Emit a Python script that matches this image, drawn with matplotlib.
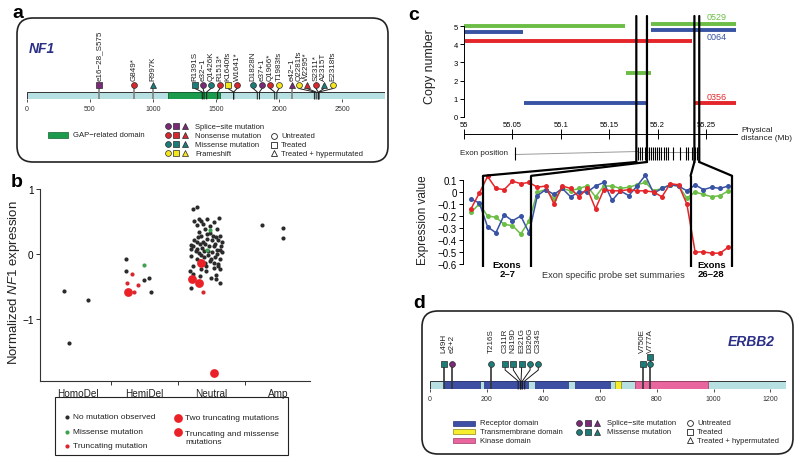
import matplotlib
matplotlib.use('Agg')
import matplotlib.pyplot as plt
from matplotlib.patches import FancyBboxPatch, Rectangle, ConnectionPatch
import numpy as np

plt.rcParams['font.family'] = 'Liberation Sans'
plt.rcParams['mathtext.fontset'] = 'custom'
plt.rcParams['mathtext.it'] = 'Liberation Sans:italic'
plt.rcParams['mathtext.rm'] = 'Liberation Sans'

W, H = 800, 464

'''Colors'''
TEAL = '#1d7c78'
PURPLE = '#7b2a79'
RED = '#d7282f'
YELLOW = '#f4e61c'
PALE = '#b6e0e1'
GAP_GREEN = '#1c9b4c'
NAVY = '#2b2f86'
CN_GREEN = '#6cbd45'
CN_BLUE = '#3953a4'
CN_RED = '#e4262b'
RECEPTOR = '#3c4fa2'
TM_YELLOW = '#f6ee2c'
KINASE = '#e9659d'
INK = '#222222'

KIND_COLOR = {'splice': PURPLE, 'nonsense': RED, 'missense': TEAL, 'frameshift': YELLOW}
SHAPE = {'untreated': 'o', 'treated': 's', 'hyper': '^'}

'''a: NF1 mutations'''
NF1_LEN = 2839
nf1_gap = (1120, 1535)
nf1_ticks = [0, 500, 1000, 1500, 2000, 2500]
nf1_labels = ['e16−28_S575', 'G849*', 'R997K', 'R1391S', 'e32−1', 'Q1426K', 'R1513*',
              'K1640fs', 'W1641*', 'D1828N', 'e37+1', 'Q1966*', 'T1983fs', 'e42−1',
              'Q2281fs', 'W2295*', 'S2311*', 'A2315T', 'E2318fs']
nf1_pos = [575, 849, 997, 1391, 1405, 1426, 1513, 1640, 1641, 1828, 1845, 1966, 1983,
           2103, 2281, 2295, 2311, 2315, 2318]
nf1_kind = ['splice', 'nonsense', 'missense', 'missense', 'splice', 'missense', 'nonsense',
            'frameshift', 'nonsense', 'missense', 'splice', 'nonsense', 'frameshift', 'splice',
            'frameshift', 'nonsense', 'nonsense', 'missense', 'frameshift']
nf1_status = ['treated', 'untreated', 'hyper', 'treated', 'untreated', 'untreated', 'untreated',
              'treated', 'untreated', 'untreated', 'untreated', 'untreated', 'untreated', 'hyper',
              'untreated', 'hyper', 'untreated', 'hyper', 'untreated']
# where the lollipop heads sit (spread so they don't overlap)
nf1_head_x = [575, 849, 997, 1333, 1397, 1460, 1532, 1595, 1667, 1795, 1865, 1929, 2000,
              2103, 2159, 2222, 2294, 2357, 2429]

'''b: NF1 expression by copy number'''
b_categories = ['HomoDel', 'HemiDel', 'Neutral', 'Amp']
nomut_x = [-0.20, 0.15, -0.12,
           0.72, 0.72, 0.99, 1.07, 1.10,
           2.75, 3.07, 3.07,
           1.72, 1.78, 1.74, 1.81, 1.85, 1.79, 1.90, 1.82, 2.04, 2.11, 2.08, 2.02, 2.07, 1.98,
           1.94, 1.74, 1.78, 1.69, 1.73, 1.79, 1.83, 1.88, 1.91, 1.96, 2.03, 2.08, 2.12, 2.10,
           2.01, 1.95, 1.89, 1.84, 1.81, 1.86, 1.77, 1.97, 1.92, 1.99, 2.05, 1.73, 2.09, 2.12,
           2.09, 1.99, 2.06, 2.12, 1.72, 1.69, 1.68, 1.85, 1.90, 2.03, 2.13, 1.83, 1.78, 1.70,
           2.15, 2.13, 2.05, 1.95, 1.89, 1.80, 1.85, 1.93, 2.00, 2.08, 2.15, 1.70, 1.92, 2.03,
           1.83, 2.14, 1.98, 1.88, 1.93, 2.07]
nomut_y = [-0.56, -0.70, -1.36,
           -0.07, -0.26, -0.40, -0.37, -0.58,
           0.45, 0.40, 0.24,
           0.69, 0.72, 0.51, 0.54, 0.51, 0.44, 0.38, 0.34, 0.49, 0.56, 0.39, 0.28, 0.26, 0.33,
           0.23, 0.21, 0.18, 0.14, 0.12, 0.08, 0.15, 0.19, 0.15, 0.13, 0.12, 0.06, 0.07, 0.21,
           0.03, -0.01, -0.05, -0.02, 0.02, 0.09, 0.04, -0.10, -0.18, -0.07, -0.04, -0.19, -0.19,
           -0.23, -0.16, -0.36, -0.32, -0.45, -0.30, -0.52, -0.26, -0.23, -0.13, -0.13, -0.08,
           -0.10, -0.07, -0.03, 0.18, 0.28, 0.15, 0.05, 0.04, 0.26, 0.28, 0.31, 0.21, 0.00, 0.03,
           0.08, -0.26, -0.22, -0.33, 0.13, 0.43, 0.46, 0.54, -0.38]
missense_x = [0.99, 1.98, 1.94]
missense_y = [-0.17, 0.37, 0.06]
trunc_x = [0.81, 0.74, 0.91, 0.85, 1.88]
trunc_y = [-0.30, -0.44, -0.47, -0.59, -0.58]
two_trunc_x = [0.76, 1.84, 2.04]
two_trunc_y = [-0.59, -0.14, -1.83]
trunc_mis_x = [1.71, 1.81]
trunc_mis_y = [-0.38, -0.45]

'''c: copy number segments (Mb) and exon probe sets'''
green_start = [55.000, 55.167, 55.193]
green_end = [55.166, 55.193, 55.281]
green_cn = [5.02, 2.42, 5.10]
blue_start = [55.000, 55.062, 55.193]
blue_end = [55.061, 55.189, 55.281]
blue_cn = [4.67, 0.77, 4.78]
red_start = [55.000, 55.238]
red_end = [55.236, 55.281]
red_cn = [4.18, 0.77]
ruler_ticks = [55.0, 55.05, 55.1, 55.15, 55.2, 55.25]
ruler_labels = ['55', '55.05', '55.1', '55.15', '55.2', '55.25']
exon_mb = [55.053, 55.1798, 55.1818, 55.184, 55.187, 55.189, 55.191, 55.193, 55.195,
           55.197, 55.199, 55.201, 55.2035, 55.2066, 55.2087, 55.211, 55.216, 55.223,
           55.229, 55.231, 55.2355, 55.2386, 55.2407, 55.243]
bound_mb = [55.178, 55.189, 55.238, 55.243]
bound_probe = [1.45, 7.25, 26.45, 31.45]
expr_green = [-0.17, -0.10, -0.20, -0.21, -0.27, -0.28, -0.35, -0.24, 0.00, 0.02, -0.06,
              0.03, 0.01, 0.03, 0.05, -0.04, 0.05, 0.05, 0.03, 0.04, 0.06, 0.08, 0.01, 0.03,
              0.06, 0.05, -0.05, 0.00, -0.02, -0.04, -0.03, 0.01]
expr_blue = [-0.06, -0.09, -0.29, -0.34, -0.19, -0.24, -0.20, -0.34, -0.03, 0.02, -0.02,
             0.03, -0.04, 0.00, 0.00, 0.05, 0.08, -0.07, 0.01, -0.03, 0.05, 0.14, -0.01, 0.03,
             0.06, 0.05, 0.01, 0.06, 0.02, 0.04, 0.03, 0.05]
expr_red = [-0.14, -0.01, 0.13, 0.03, 0.02, 0.09, 0.07, 0.08, 0.04, 0.05, -0.10, 0.05, 0.03,
            -0.04, 0.03, -0.14, 0.02, 0.01, 0.01, 0.02, 0.01, 0.01, 0.00, -0.04, 0.07, 0.06,
            -0.10, -0.50, -0.50, -0.51, -0.51, -0.46]
expr_ticks = [0.1, 0.0, -0.1, -0.2, -0.3, -0.4, -0.5, -0.6]

'''d: ERBB2 mutations'''
ERBB2_LEN = 1255
d_ticks = [0, 200, 400, 600, 800, 1000, 1200]
receptor_start = [49, 190, 370, 511]
receptor_end = [176, 346, 487, 635]
tm_domain = (652, 675)
kinase_domain = (723, 981)
d_labels = ['L49H', 'e2+2', 'T216S', 'C311R', 'N319D', 'E321G', 'D326G', 'C334S', 'V750E', 'V777A']
d_pos = [49, 78, 216, 311, 319, 321, 326, 334, 750, 777]
d_kind = ['missense', 'splice', 'missense', 'missense', 'missense', 'missense', 'missense',
          'missense', 'missense', 'missense']
d_status = ['treated', 'untreated', 'untreated', 'treated', 'treated', 'treated', 'untreated',
            'untreated', 'treated', 'untreated']
d_head_x = [49, 78, 216, 265, 294, 323, 353, 382, 750, 777]
# second sample carrying V777A (stacked head)
d_extra_pos = [777]
d_extra_kind = ['missense']
d_extra_status = ['treated']


fig = plt.figure(figsize=(8, 4.64), dpi=100)
over = fig.add_axes([0, 0, 1, 1])
over.set_xlim(0, W)
over.set_ylim(H, 0)
over.axis('off')


def px_axes(x0, y0, x1, y1):
    ax = fig.add_axes([x0 / W, 1 - y1 / H, (x1 - x0) / W, (y1 - y0) / H])
    ax.set_facecolor('none')
    return ax


def draw_protein(ax, length, bar_top, bar_bot, ticks):
    ax.set_xlim(0, length)
    ax.add_patch(Rectangle((0, bar_top), length, bar_bot - bar_top, fc=PALE, ec='#333333',
                           lw=0.7, zorder=1))
    for sp in ax.spines.values():
        sp.set_visible(False)
    ax.set_yticks([])
    ax.set_xticks(ticks)
    ax.tick_params(axis='x', length=2.5, width=0.6, labelsize=5, pad=1.5, colors='#333333')


def draw_lollipops(ax, pos, head_x, kind, status, labels, head_y, elbow_y, bar_top, bar_bot,
                   label_y, straight_color):
    for p, hx, k, s, lab in zip(pos, head_x, kind, status, labels):
        if hx == p:
            ax.plot([p, p], [head_y, bar_bot], color=straight_color, lw=1.2, zorder=2,
                    solid_capstyle='butt', clip_on=False)
        else:
            ax.plot([hx, hx, p, p], [head_y, elbow_y, bar_top, bar_bot], color='#1a1a1a',
                    lw=0.7, zorder=2, clip_on=False)
        ax.plot(hx, head_y, marker=SHAPE[s], ms=4.2, mfc=KIND_COLOR[k], mec='#2a2a2a',
                mew=0.5, zorder=4, clip_on=False)
        if lab:
            ax.text(hx, label_y, lab, rotation=90, ha='center', va='bottom', fontsize=5.8,
                    color=INK)


# ---------------- panel a ----------------
over.add_patch(FancyBboxPatch((17, 19), 371, 144, boxstyle='round,pad=0,rounding_size=16',
                              fc='none', ec=INK, lw=1.2))
over.text(17.5, 18.5, 'a', fontsize=14, fontweight='bold', ha='center', va='baseline')
over.text(41.5, 49, 'NF1', fontsize=10, fontweight='bold', style='italic', color=NAVY,
          ha='center', va='center')

ax_a = px_axes(27, 15, 384.7, 100)
ax_a.set_ylim(100, 15)
draw_protein(ax_a, NF1_LEN, 93, 100, nf1_ticks)
ax_a.add_patch(Rectangle((nf1_gap[0], 93), nf1_gap[1] - nf1_gap[0], 7, fc=GAP_GREEN,
                         ec='#145f33', lw=0.6, zorder=1.5))
draw_lollipops(ax_a, nf1_pos, nf1_head_x, nf1_kind, nf1_status, nf1_labels,
               86, 89.5, 93, 100, 81, '#808080')

over.add_patch(Rectangle((48, 133), 20, 5.5, fc=GAP_GREEN, ec='#145f33', lw=0.5))
over.text(73, 136, 'GAP−related domain', fontsize=5.5, va='center', color=INK)
leg_kinds = ['splice', 'nonsense', 'missense', 'frameshift']
leg_names = ['Splice−site mutation', 'Nonsense mutation', 'Missense mutation', 'Frameshift']
for row, (k, name) in enumerate(zip(leg_kinds, leg_names)):
    y = 127.3 + 9.0 * row
    for col, s in enumerate(['untreated', 'treated', 'hyper']):
        over.plot(167.5 + 8.8 * col, y, marker=SHAPE[s], ms=4.2, mfc=KIND_COLOR[k],
                  mec='#2a2a2a', mew=0.5)
    over.text(195, y, name, fontsize=5.5, va='center', color=INK)
status_names = ['Untreated', 'Treated', 'Treated + hypermutated']
for row, (s, name) in enumerate(zip(['untreated', 'treated', 'hyper'], status_names)):
    y = 137 + 8.6 * row
    over.plot(274, y, marker=SHAPE[s], ms=4.2, mfc='white', mec=INK, mew=0.6)
    over.text(281, y, name, fontsize=5.5, va='center', color=INK)

# ---------------- panel b ----------------
over.text(16.5, 187, 'b', fontsize=14, fontweight='bold', ha='center', va='baseline')
ax_b = px_axes(40, 190, 310, 382)
ax_b.set_xlim(-0.56, 3.47)
ax_b.set_ylim(-1.95, 1.0)
ax_b.spines[['top', 'right']].set_visible(False)
for sp in ['left', 'bottom']:
    ax_b.spines[sp].set_linewidth(0.8)
    ax_b.spines[sp].set_color('#333333')
ax_b.set_xticks(range(len(b_categories)))
ax_b.set_xticklabels(b_categories)
ax_b.set_xticks([0.5, 1.5, 2.5], minor=True)
ax_b.tick_params(axis='x', which='major', length=0, pad=5, labelsize=7.2, colors=INK)
ax_b.tick_params(axis='x', which='minor', length=3, width=0.7, color='#333333')
ax_b.set_yticks([1, 0, -1])
ax_b.tick_params(axis='y', length=3, width=0.7, labelsize=7.2, pad=1.5, color='#333333')
ax_b.scatter(nomut_x, nomut_y, s=9, color='#2b2b2b', lw=0, zorder=3)
ax_b.scatter(missense_x, missense_y, s=9, color='#3ea24f', lw=0, zorder=4)
ax_b.scatter(trunc_x, trunc_y, s=9, color=RED, lw=0, zorder=4)
ax_b.scatter(two_trunc_x, two_trunc_y, s=40, color='#ea2228', lw=0, zorder=5)
ax_b.scatter(trunc_mis_x, trunc_mis_y, s=40, color='#ea2228', lw=0, zorder=5)
ax_b.text(-0.097, 0.516, r'Normalized $\it{NF1}$ expression', rotation=90, ha='center',
          va='center', fontsize=9.5, transform=ax_b.transAxes, color=INK)

over.add_patch(Rectangle((55, 398), 233, 58, fc='none', ec=INK, lw=0.8))
for y, col, name in [(418, '#2b2b2b', 'No mutation observed'),
                     (432.5, '#3ea24f', 'Missense mutation'),
                     (447, RED, 'Truncating mutation')]:
    over.scatter(67, y, s=9, color=col, lw=0)
    over.text(73, y, name, fontsize=6, va='center', color=INK)
over.scatter(178, 419, s=40, color='#ea2228', lw=0)
over.text(185, 419, 'Two truncating mutations', fontsize=6, va='center', color=INK)
over.scatter(178, 433, s=40, color='#ea2228', lw=0)
over.text(185, 438.5, 'Truncating and missense\nmutations', fontsize=6, va='center',
          linespacing=1.15, color=INK)

# ---------------- panel c ----------------
over.text(413.5, 20, 'c', fontsize=14, fontweight='bold', ha='center', va='baseline')
CN_LIM = (55.0, 55.282)
ax_cn = px_axes(464, 17, 737, 120)
ax_cn.set_xlim(CN_LIM)
ax_cn.set_ylim(-0.11, 5.55)
for sp in ['top', 'right', 'bottom']:
    ax_cn.spines[sp].set_visible(False)
ax_cn.spines['left'].set_bounds(0, 5)
ax_cn.spines['left'].set_linewidth(0.7)
ax_cn.set_xticks([])
ax_cn.set_yticks(range(6))
ax_cn.tick_params(axis='y', length=3, width=0.7, labelsize=5.5, pad=1.5)
for col, st, en, cn in [(CN_GREEN, green_start, green_end, green_cn),
                        (CN_BLUE, blue_start, blue_end, blue_cn),
                        (CN_RED, red_start, red_end, red_cn)]:
    ax_cn.hlines(cn, st, en, color=col, lw=2.8, capstyle='butt', zorder=2)
ax_cn.text(55.251, 5.52, '0529', color=CN_GREEN, fontsize=6.5, va='center')
ax_cn.text(55.251, 4.4, '0064', color=CN_BLUE, fontsize=6.5, va='center')
ax_cn.text(55.251, 1.1, '0356', color=CN_RED, fontsize=6.5, va='center')
ax_cn.text(-0.125, 0.52, 'Copy number', rotation=90, ha='center', va='center', fontsize=9,
           transform=ax_cn.transAxes, color=INK)

ax_rl = px_axes(464, 134.5, 737, 135.5)
ax_rl.set_xlim(CN_LIM)
for sp in ['bottom', 'left', 'right']:
    ax_rl.spines[sp].set_visible(False)
ax_rl.spines['top'].set_linewidth(0.7)
ax_rl.set_yticks([])
ax_rl.set_xticks(ruler_ticks)
ax_rl.set_xticklabels(ruler_labels)
ax_rl.tick_params(axis='x', bottom=False, labelbottom=False, top=True, labeltop=True,
                  direction='inout', length=7, width=0.7, labelsize=5.5, pad=0.5)
over.text(741, 134.5, 'Physical\ndistance (Mb)', fontsize=6, va='center', linespacing=1.05,
          color=INK)

ax_ex = px_axes(464, 143, 737, 166)
ax_ex.set_xlim(CN_LIM)
ax_ex.set_ylim(166, 143)
ax_ex.axis('off')
ax_ex.plot([exon_mb[0], exon_mb[1]], [155.5, 152.5], color='#9a9a9a', lw=0.7)
ax_ex.plot([exon_mb[1], exon_mb[-1]], [152.5, 152.5], color='#9a9a9a', lw=0.7)
ax_ex.vlines(exon_mb, 148, 161, color='k', lw=0.8)
over.text(508, 153.5, 'Exon position', fontsize=5.8, ha='right', va='center', color=INK)

ax_ep = px_axes(463, 170, 735, 270)
ax_ep.set_xlim(-0.96, 31.8)
ax_ep.set_ylim(-0.642, 0.192)
for sp in ['top', 'right', 'bottom']:
    ax_ep.spines[sp].set_visible(False)
ax_ep.spines['left'].set_bounds(-0.6, 0.1)
ax_ep.spines['left'].set_linewidth(0.7)
ax_ep.set_xticks([])
ax_ep.set_yticks(expr_ticks)
ax_ep.set_yticklabels(['0' if v == 0 else f'{v:.1f}'.replace('-', '−') for v in expr_ticks])
ax_ep.tick_params(axis='y', length=3, width=0.7, labelsize=7, pad=1.5)
probe = np.arange(len(expr_red))
for col, vals in [(CN_GREEN, expr_green), (CN_BLUE, expr_blue), (CN_RED, expr_red)]:
    ax_ep.plot(probe, vals, color=col, lw=1.1, marker='o', ms=3.6, mec='none', zorder=3)
EXPR_TOP, EXPR_BOT = 0.135, -0.625
ax_ep.vlines(bound_probe, EXPR_BOT, EXPR_TOP, color='k', lw=1.6, zorder=4, clip_on=False)
ax_ep.text(-0.147, 0.5, 'Expression value', rotation=90, ha='center', va='center',
           fontsize=8.5, transform=ax_ep.transAxes, color=INK)
ax_ep.text((bound_probe[0] + bound_probe[1]) / 2, -0.57, 'Exons\n2–7', ha='center', va='top',
           fontsize=6.8, fontweight='bold', linespacing=1.0)
ax_ep.text((bound_probe[2] + bound_probe[3]) / 2, -0.57, 'Exons\n26–28', ha='center',
           va='top', fontsize=6.8, fontweight='bold', linespacing=1.0)
ax_ep.text(17.1, -0.69, 'Exon specific probe set summaries', ha='center', va='center',
           fontsize=6.6, color='#333333')

for mb, pr in zip(bound_mb, bound_probe):
    fig.add_artist(ConnectionPatch(xyA=(mb, 5.55), coordsA='data', axesA=ax_cn,
                                   xyB=(mb, 163), coordsB='data', axesB=ax_ex,
                                   color='k', lw=1.6, zorder=3))
    fig.add_artist(ConnectionPatch(xyA=(mb, 163), coordsA='data', axesA=ax_ex,
                                   xyB=(pr, EXPR_TOP), coordsB='data', axesB=ax_ep,
                                   color='k', lw=1.6, zorder=3))

# ---------------- panel d ----------------
over.text(419, 308, 'd', fontsize=14, fontweight='bold', ha='center', va='baseline')
over.add_patch(FancyBboxPatch((422, 312), 371, 143, boxstyle='round,pad=0,rounding_size=16',
                              fc='none', ec=INK, lw=1.2))
over.text(751, 342, 'ERBB2', fontsize=10, fontweight='bold', style='italic', color=NAVY,
          ha='center', va='center')

ax_d = px_axes(430, 312, 785.8, 390)
ax_d.set_ylim(390, 312)
draw_protein(ax_d, ERBB2_LEN, 382, 390, d_ticks)
for s0, s1 in zip(receptor_start, receptor_end):
    ax_d.add_patch(Rectangle((s0, 382), s1 - s0, 8, fc=RECEPTOR, ec='#27347a', lw=0.5,
                             zorder=1.5))
ax_d.add_patch(Rectangle((tm_domain[0], 382), tm_domain[1] - tm_domain[0], 8, fc=TM_YELLOW,
                         ec='#8a8420', lw=0.5, zorder=1.5))
ax_d.add_patch(Rectangle((kinase_domain[0], 382), kinase_domain[1] - kinase_domain[0], 8,
                         fc=KINASE, ec='#9c3a66', lw=0.5, zorder=1.5))
draw_lollipops(ax_d, d_pos, d_head_x, d_kind, d_status, d_labels,
               365, 371, 382, 390, 353, '#333333')
for p, k, s in zip(d_extra_pos, d_extra_kind, d_extra_status):
    ax_d.plot([p, p], [358, 365], color='#333333', lw=1.0, zorder=2)
    ax_d.plot(p, 358, marker=SHAPE[s], ms=4.2, mfc=KIND_COLOR[k], mec='#2a2a2a', mew=0.5,
              zorder=4, clip_on=False)

for row, (col, ec, name) in enumerate([(RECEPTOR, '#27347a', 'Receptor domain'),
                                       (TM_YELLOW, '#8a8420', 'Transmembrane domain'),
                                       (KINASE, '#9c3a66', 'Kinase domain')]):
    y = 424 + 8.7 * row
    over.add_patch(Rectangle((453, y - 2.5), 22, 5, fc=col, ec=ec, lw=0.5))
    over.text(480, y, name, fontsize=5.5, va='center', color=INK)
for row, (k, name) in enumerate([('splice', 'Splice−site mutation'),
                                 ('missense', 'Missense mutation')]):
    y = 424 + 8.7 * row
    for col, s in enumerate(['untreated', 'treated', 'hyper']):
        over.plot(578.5 + 9.2 * col, y, marker=SHAPE[s], ms=4.2, mfc=KIND_COLOR[k],
                  mec='#2a2a2a', mew=0.5)
    over.text(607, y, name, fontsize=5.5, va='center', color=INK)
for row, (s, name) in enumerate(zip(['untreated', 'treated', 'hyper'], status_names)):
    y = 424 + 8.7 * row
    over.plot(690, y, marker=SHAPE[s], ms=4.2, mfc='white', mec=INK, mew=0.6)
    over.text(697, y, name, fontsize=5.5, va='center', color=INK)

fig.savefig('out.png', dpi=100)
